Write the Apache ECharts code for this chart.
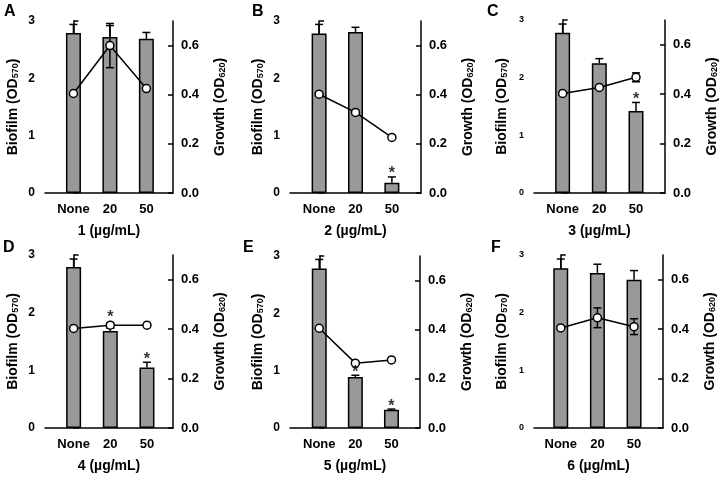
<!DOCTYPE html>
<html><head><meta charset="utf-8">
<script src="https://cdn.jsdelivr.net/npm/echarts@6/dist/echarts.min.js"></script>
<style>html,body{margin:0;padding:0;background:#fff}#c{width:720px;height:480px}</style>
</head><body><div id="c"></div>
<script>
const categories = ['None', '20', '50'];
const compounds = ['1', '2', '3', '4', '5', '6'];
const letters = ['A', 'B', 'C', 'D', 'E', 'F'];
const leftTicks = [0, 1, 2, 3];
const rightTicks = [0, 0.2, 0.4, 0.6];

const biofilmA = [2.79, 2.72, 2.69], biofilmErrA = [0.15, 0.20, 0.11];
const biofilmB = [2.78, 2.81, 0.18], biofilmErrB = [0.16, 0.08, 0.10];
const biofilmC = [2.78, 2.25, 1.42], biofilmErrC = [0.15, 0.08, 0.15];
const biofilmD = [2.79, 1.68, 1.05], biofilmErrD = [0.14, 0.05, 0.09];
const biofilmE = [2.78, 0.89, 0.32], biofilmErrE = [0.16, 0.03, 0.01];
const biofilmF = [2.77, 2.69, 2.57], biofilmErrF = [0.16, 0.15, 0.16];

const growthA = [0.405, 0.600, 0.425], growthErrA = [0, 0.09, 0];
const growthB = [0.402, 0.328, 0.226], growthErrB = [0, 0, 0];
const growthC = [0.403, 0.427, 0.468], growthErrC = [0, 0, 0.018];
const growthD = [0.403, 0.416, 0.416], growthErrD = [0, 0.01, 0];
const growthE = [0.406, 0.264, 0.277], growthErrE = [0, 0, 0];
const growthF = [0.405, 0.446, 0.410], growthErrF = [0, 0.04, 0.032];

// significance stars: [category index, biofilm-axis height]
const starsA = [], starsB = [[2, 0.39]], starsC = [[2, 1.67]];
const starsD = [[1, 1.97], [2, 1.245]], starsE = [[1, 1.01], [2, 0.43]], starsF = [];

const biofilm = [biofilmA, biofilmB, biofilmC, biofilmD, biofilmE, biofilmF];
const biofilmErr = [biofilmErrA, biofilmErrB, biofilmErrC, biofilmErrD, biofilmErrE, biofilmErrF];
const growth = [growthA, growthB, growthC, growthD, growthE, growthF];
const growthErr = [growthErrA, growthErrB, growthErrC, growthErrD, growthErrE, growthErrF];
const stars = [starsA, starsB, starsC, starsD, starsE, starsF];

// layout
const grids = [
  {left: 45, width: 128, top: 21, height: 172},
  {left: 290, width: 131, top: 21, height: 172},
  {left: 534, width: 131, top: 20, height: 173},
  {left: 45, width: 128, top: 255, height: 173},
  {left: 290, width: 130, top: 256, height: 172},
  {left: 534, width: 129, top: 255, height: 173}
];
const xRanges = [[-0.78, 2.73], [-0.80, 2.80], [-0.78, 2.79], [-0.78, 2.71], [-0.81, 2.79], [-0.73, 2.79]];
const letterPos = [[4, 4], [252, 4], [487, 4], [3, 240], [243, 240], [491, 240]];
const leftLabelSize = [12, 12, 9, 12, 12, 9];

const FONT = 'Liberation Sans, Arial, sans-serif';
const axisLineStyle = {color: '#000', width: 1.5};

const option = {
  animation: false,
  backgroundColor: '#fff',
  title: letters.map((l, i) => ({
    text: l, left: letterPos[i][0], top: letterPos[i][1], padding: 0,
    textStyle: {fontFamily: FONT, fontWeight: 'bold', fontSize: 16, color: '#000'}
  })),
  grid: grids,
  xAxis: [], yAxis: [], series: []
};

function errRender(width, fromBase) {
  return function (params, api) {
    const x = api.value(0), v = api.value(1), e = api.value(2);
    if (!e) return null;
    const top = api.coord([x, v + e]);
    const bot = api.coord([x, fromBase ? v : v - e]);
    const hw = width / 2;
    const st = {stroke: '#000', lineWidth: 1.5};
    const children = [
      {type: 'line', shape: {x1: top[0], y1: top[1], x2: bot[0], y2: bot[1]}, style: st},
      {type: 'line', shape: {x1: top[0] - hw, y1: top[1], x2: top[0] + hw, y2: top[1]}, style: st}
    ];
    if (!fromBase) children.push({type: 'line', shape: {x1: bot[0] - hw, y1: bot[1], x2: bot[0] + hw, y2: bot[1]}, style: st});
    return {type: 'group', children};
  };
}

for (let i = 0; i < 6; i++) {
  option.xAxis.push({
    type: 'value', gridIndex: i, min: xRanges[i][0], max: xRanges[i][1],
    axisLine: {show: true, onZero: false, lineStyle: axisLineStyle},
    axisTick: {show: false}, splitLine: {show: false},
    axisLabel: {
      customValues: [0, 1, 2], formatter: v => categories[Math.round(v)],
      fontFamily: FONT, fontWeight: 'bold', fontSize: 13, color: '#000', margin: 10
    },
    name: compounds[i] + ' (\u00b5g/mL)', nameLocation: 'middle', nameGap: 31,
    nameTextStyle: {fontFamily: FONT, fontWeight: 'bold', fontSize: 14, color: '#000'}
  });
  option.yAxis.push({
    type: 'value', gridIndex: i, min: 0, max: 3, interval: 1, position: 'left',
    axisLine: {show: true, lineStyle: axisLineStyle},
    axisTick: {show: true, inside: true, length: 5, lineStyle: axisLineStyle, customValues: leftTicks},
    axisLabel: {fontFamily: FONT, fontWeight: 'bold', fontSize: leftLabelSize[i], color: '#000', margin: 10, customValues: leftTicks},
    splitLine: {show: false},
    name: 'Biofilm (OD{s|570})', nameLocation: 'middle', nameGap: 25,
    nameTextStyle: {fontFamily: FONT, fontWeight: 'bold', fontSize: 14, color: '#000',
      rich: {s: {fontFamily: FONT, fontWeight: 'bold', fontSize: 9, color: '#000', verticalAlign: 'bottom', padding: [4, 0, 0, 0]}}}
  });
  option.yAxis.push({
    type: 'value', gridIndex: i, min: 0, max: 0.7, position: 'right',
    axisLine: {show: true, lineStyle: axisLineStyle},
    axisTick: {show: true, inside: true, length: 5, lineStyle: axisLineStyle, customValues: rightTicks},
    axisLabel: {customValues: rightTicks, formatter: v => v.toFixed(1),
      fontFamily: FONT, fontWeight: 'bold', fontSize: 13, color: '#000', margin: 8},
    splitLine: {show: false},
    name: 'Growth (OD{s|620})', nameLocation: 'middle', nameGap: 40, nameRotate: 90,
    nameTextStyle: {fontFamily: FONT, fontWeight: 'bold', fontSize: 14, color: '#000',
      rich: {s: {fontFamily: FONT, fontWeight: 'bold', fontSize: 9, color: '#000', verticalAlign: 'bottom', padding: [4, 0, 0, 0]}}}
  });
  const yl = 2 * i, yr = 2 * i + 1;
  option.series.push({
    type: 'bar', xAxisIndex: i, yAxisIndex: yl, barWidth: 15,
    itemStyle: {color: '#999999', borderColor: '#000', borderWidth: 1.5},
    data: biofilm[i].map((v, k) => [k, v]), z: 2
  });
  option.series.push({
    type: 'custom', xAxisIndex: i, yAxisIndex: yl, renderItem: errRender(8, true),
    data: biofilm[i].map((v, k) => [k, v, biofilmErr[i][k]]), z: 3
  });
  option.series.push({
    type: 'custom', xAxisIndex: i, yAxisIndex: yr, renderItem: errRender(8, false),
    data: growth[i].map((v, k) => [k, v, growthErr[i][k]]), z: 4
  });
  option.series.push({
    type: 'line', xAxisIndex: i, yAxisIndex: yr,
    symbol: 'circle', symbolSize: 8,
    lineStyle: {color: '#000', width: 1.5},
    itemStyle: {color: '#fff', borderColor: '#000', borderWidth: 1.5},
    data: growth[i].map((v, k) => [k, v]), z: 5
  });
  option.series.push({
    type: 'scatter', xAxisIndex: i, yAxisIndex: yl, symbolSize: 0,
    label: {show: true, position: 'inside', formatter: '*', fontFamily: FONT, fontWeight: 'bold', fontSize: 16, color: '#000', offset: [0, 3]},
    data: stars[i].map(s => [s[0], s[1]]), z: 6
  });
}

const chart = echarts.init(document.getElementById('c'), null, {renderer: 'canvas'});
chart.setOption(option);
</script>
</body></html>
